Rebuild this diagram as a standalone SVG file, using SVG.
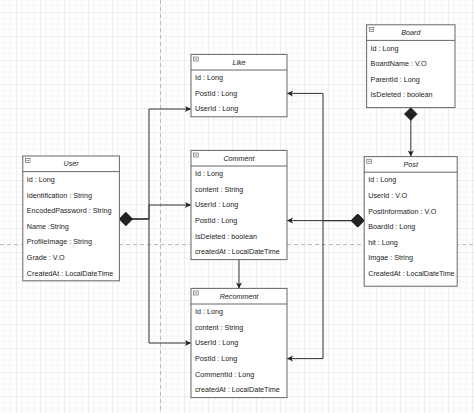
<svg xmlns="http://www.w3.org/2000/svg" width="474" height="413" viewBox="0 0 474 413">
<style>
.box{fill:#ffffff;stroke:#666666;stroke-width:1}
.sep{stroke:#666666;stroke-width:1}
.t{font-family:"Liberation Sans",Arial,sans-serif;font-size:7.2px;fill:#222222}
.title{font-family:"Liberation Sans",Arial,sans-serif;font-size:7.2px;font-style:italic;fill:#222222;text-anchor:middle}
.icon{fill:#ffffff;stroke:#555555;stroke-width:0.6}
.edge{fill:none;stroke:#333333;stroke-width:1}
.page{stroke:#bbbbbb;stroke-width:1;stroke-dasharray:4 3}
</style>
<defs>
<pattern id="grid" patternUnits="userSpaceOnUse" x="16" y="12" width="24" height="24">
<path d="M6 0V24M12 0V24M18 0V24M0 6H24M0 12H24M0 18H24" stroke="#f3f3f3" stroke-width="1" fill="none"/>
<path d="M0 0V24M0 0H24" stroke="#dedede" stroke-width="1" fill="none"/>
</pattern>
<marker id="dia" markerUnits="userSpaceOnUse" markerWidth="14" markerHeight="13" refX="0" refY="6.5" orient="auto" overflow="visible">
<path d="M0 6.5L6.5 0L13 6.5L6.5 13Z" fill="#222222" stroke="#222222" stroke-width="0.5"/>
</marker>
<marker id="arr" markerUnits="userSpaceOnUse" markerWidth="7" markerHeight="6" refX="6" refY="3" orient="auto" overflow="visible">
<path d="M0 0L6 3L0 6L1.5 3Z" fill="#222222"/>
</marker>
</defs>
<rect x="0" y="0" width="474" height="413" fill="#ffffff"/>
<rect x="0" y="0" width="474" height="413" fill="url(#grid)"/>
<line class="page" x1="160.5" y1="0" x2="160.5" y2="413"/>
<line class="page" x1="0" y1="244.5" x2="474" y2="244.5"/>

<g id="connectors">
<path class="edge" d="M119.4 219H149V109H191" marker-start="url(#dia)" marker-end="url(#arr)"/>
<path class="edge" d="M119.4 219H149V205H191" marker-start="url(#dia)" marker-end="url(#arr)"/>
<path class="edge" d="M119.4 219H149V343H191" marker-start="url(#dia)" marker-end="url(#arr)"/>
<path class="edge" d="M364.2 220.6H287" marker-start="url(#dia)" marker-end="url(#arr)"/>
<path class="edge" d="M364.2 220.6H323V93.4H287" marker-start="url(#dia)" marker-end="url(#arr)"/>
<path class="edge" d="M364.2 220.6H323V358.6H287" marker-start="url(#dia)" marker-end="url(#arr)"/>
<path class="edge" d="M410.8 107.6V156.6" marker-start="url(#dia)" marker-end="url(#arr)"/>
<path class="edge" d="M239 259.6V288.4" marker-end="url(#arr)"/>
</g>

<g id="user" transform="translate(22.8,156)">
<rect class="box" x="0" y="0" width="96.6" height="124.8"/>
<line class="sep" x1="0" y1="15.6" x2="96.6" y2="15.6"/>
<rect class="icon" x="2.6" y="2.6" width="4.6" height="4"/><line x1="3.6" y1="4.6" x2="6.2" y2="4.6" stroke="#333" stroke-width="0.6"/>
<text class="title" x="48.3" y="10.3">User</text>
<text class="t" x="4" y="25.9">Id : Long</text>
<text class="t" x="4" y="41.5">Identification : String</text>
<text class="t" x="4" y="57.1">EncodedPassword : String</text>
<text class="t" x="4" y="72.7">Name :String</text>
<text class="t" x="4" y="88.3">ProfileImage : String</text>
<text class="t" x="4" y="103.9">Grade : V.O</text>
<text class="t" x="4" y="119.5">CreatedAt : LocalDateTime</text>
</g>

<g id="like" transform="translate(191,54.4)">
<rect class="box" x="0" y="0" width="96" height="62.4"/>
<line class="sep" x1="0" y1="15.6" x2="96" y2="15.6"/>
<rect class="icon" x="2.6" y="2.6" width="4.6" height="4"/><line x1="3.6" y1="4.6" x2="6.2" y2="4.6" stroke="#333" stroke-width="0.6"/>
<text class="title" x="48" y="10.3">Like</text>
<text class="t" x="4" y="25.9">Id : Long</text>
<text class="t" x="4" y="41.5">PostId : Long</text>
<text class="t" x="4" y="57.1">UserId : Long</text>
</g>

<g id="comment" transform="translate(191,150.4)">
<rect class="box" x="0" y="0" width="96" height="109.2"/>
<line class="sep" x1="0" y1="15.6" x2="96" y2="15.6"/>
<rect class="icon" x="2.6" y="2.6" width="4.6" height="4"/><line x1="3.6" y1="4.6" x2="6.2" y2="4.6" stroke="#333" stroke-width="0.6"/>
<text class="title" x="48" y="10.3">Comment</text>
<text class="t" x="4" y="25.9">Id : Long</text>
<text class="t" x="4" y="41.5">content : String</text>
<text class="t" x="4" y="57.1">UserId : Long</text>
<text class="t" x="4" y="72.7">PostId : Long</text>
<text class="t" x="4" y="88.3">IsDeleted : boolean</text>
<text class="t" x="4" y="103.9">createdAt : LocalDateTime</text>
</g>

<g id="recomment" transform="translate(191,288.4)">
<rect class="box" x="0" y="0" width="96" height="109.2"/>
<line class="sep" x1="0" y1="15.6" x2="96" y2="15.6"/>
<rect class="icon" x="2.6" y="2.6" width="4.6" height="4"/><line x1="3.6" y1="4.6" x2="6.2" y2="4.6" stroke="#333" stroke-width="0.6"/>
<text class="title" x="48" y="10.3">Recomment</text>
<text class="t" x="4" y="25.9">Id : Long</text>
<text class="t" x="4" y="41.5">content : String</text>
<text class="t" x="4" y="57.1">UserId : Long</text>
<text class="t" x="4" y="72.7">PostId : Long</text>
<text class="t" x="4" y="88.3">CommentId : Long</text>
<text class="t" x="4" y="103.9">createdAt : LocalDateTime</text>
</g>

<g id="board" transform="translate(366.6,24.8)">
<rect class="box" x="0" y="0" width="88.4" height="82.8"/>
<line class="sep" x1="0" y1="15.6" x2="88.4" y2="15.6"/>
<rect class="icon" x="2.6" y="2.6" width="4.6" height="4"/><line x1="3.6" y1="4.6" x2="6.2" y2="4.6" stroke="#333" stroke-width="0.6"/>
<text class="title" x="44.2" y="10.3">Board</text>
<text class="t" x="4" y="25.9">Id : Long</text>
<text class="t" x="4" y="41.5">BoardName : V.O</text>
<text class="t" x="4" y="57.1">ParentId : Long</text>
<text class="t" x="4" y="72.7">IsDeleted : boolean</text>
</g>

<g id="post" transform="translate(364.2,156.6)">
<rect class="box" x="0" y="0" width="93" height="129.6"/>
<line class="sep" x1="0" y1="15.6" x2="93" y2="15.6"/>
<rect class="icon" x="2.6" y="2.6" width="4.6" height="4"/><line x1="3.6" y1="4.6" x2="6.2" y2="4.6" stroke="#333" stroke-width="0.6"/>
<text class="title" x="46.5" y="10.3">Post</text>
<text class="t" x="4" y="25.9">Id : Long</text>
<text class="t" x="4" y="41.5">UserId : V.O</text>
<text class="t" x="4" y="57.1">PostInformation : V.O</text>
<text class="t" x="4" y="72.7">BoardId : Long</text>
<text class="t" x="4" y="88.3">hit : Long</text>
<text class="t" x="4" y="103.9">Imgae : String</text>
<text class="t" x="4" y="119.5">CreatedAt : LocalDateTime</text>
</g>
</svg>
